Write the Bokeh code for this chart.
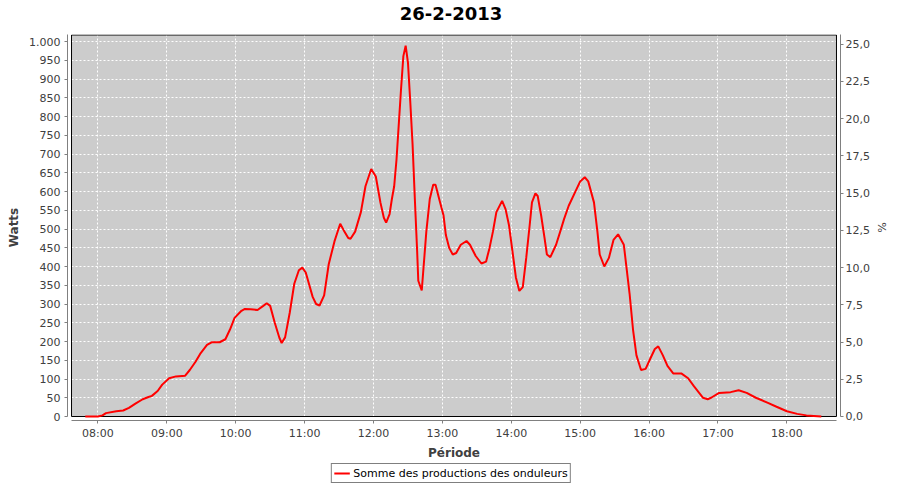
from bokeh.plotting import figure
from bokeh.layouts import column
from bokeh.models import Range1d, LinearAxis, FixedTicker, Legend, LegendItem, Label
from bokeh.embed import file_html
from bokeh.resources import INLINE

# ---- data ----
times = ["07:49", "08:00", "08:04", "08:07", "08:16", "08:22", "08:27", "08:33", "08:39", "08:44",
         "08:47", "08:52", "08:56", "09:02", "09:08", "09:16", "09:20", "09:25", "09:29", "09:35",
         "09:39", "09:46", "09:51", "09:55", "09:59", "10:05", "10:08", "10:13", "10:19", "10:24",
         "10:27", "10:30", "10:34", "10:38", "10:40", "10:43", "10:47", "10:51", "10:55", "10:58",
         "11:01", "11:07", "11:10", "11:13", "11:17", "11:21", "11:26", "11:31", "11:34", "11:38",
         "11:40", "11:44", "11:49", "11:53", "11:58", "12:02", "12:06", "12:09", "12:11", "12:14",
         "12:16", "12:18", "12:20", "12:22", "12:24", "12:26", "12:28", "12:30", "12:32", "12:34",
         "12:36", "12:38", "12:39", "12:42", "12:44", "12:46", "12:49", "12:52", "12:54", "12:58",
         "13:01", "13:03", "13:06", "13:09", "13:12", "13:16", "13:21", "13:24", "13:29", "13:34",
         "13:38", "13:41", "13:44", "13:47", "13:52", "13:55", "13:58", "14:01", "14:04", "14:07",
         "14:10", "14:13", "14:16", "14:18", "14:21", "14:23", "14:26", "14:29", "14:31", "14:34",
         "14:39", "14:43", "14:46", "14:50", "14:56", "15:00", "15:04", "15:07", "15:12", "15:15",
         "15:17", "15:21", "15:25", "15:29", "15:33", "15:38", "15:40", "15:43", "15:46", "15:49",
         "15:53", "15:57", "16:01", "16:05", "16:08", "16:12", "16:16", "16:21", "16:28", "16:34",
         "16:39", "16:47", "16:51", "16:54", "17:01", "17:11", "17:18", "17:25", "17:33", "17:43",
         "17:51", "18:00", "18:09", "18:17", "18:30"]
watts = [0, 0, 3, 9, 14, 16, 23, 35, 46, 52,
         55, 68, 85, 102, 107, 109, 124, 146, 167, 191,
         198, 198, 206, 232, 263, 282, 287, 286, 284, 295,
         302, 295, 250, 210, 196, 211, 276, 354, 390, 397,
         384, 319, 300, 296, 323, 406, 467, 514, 497, 476,
         474, 493, 545, 614, 660, 640, 571, 530, 517, 540,
         580, 614, 684, 779, 874, 961, 989, 944, 840, 727,
         580, 441, 362, 336, 414, 493, 580, 618, 618, 571,
         536, 484, 449, 432, 436, 458, 468, 458, 428, 408,
         413, 449, 493, 545, 575, 553, 510, 441, 371, 335,
         345, 423, 510, 571, 595, 588, 536, 475, 432, 425,
         458, 497, 527, 562, 601, 627, 638, 627, 571, 493,
         432, 400, 423, 471, 486, 458, 406, 328, 232, 163,
         124, 127, 154, 180, 187, 163, 135, 115, 115, 102,
         81, 50, 46, 50, 63, 65, 70, 63, 50, 37,
         26, 14, 7, 3, 0]
hour_labels = ["08:00", "09:00", "10:00", "11:00", "12:00", "13:00",
               "14:00", "15:00", "16:00", "17:00", "18:00"]
watt_ticks = [0, 50, 100, 150, 200, 250, 300, 350, 400, 450, 500,
              550, 600, 650, 700, 750, 800, 850, 900, 950, 1000]
pct_ticks = [0.0, 2.5, 5.0, 7.5, 10.0, 12.5, 15.0, 17.5, 20.0, 22.5, 25.0]
series_name = "Somme des productions des onduleurs"
title_text = "26-2-2013"


def to_min(s):
    h, m = s.split(":")
    return int(h) * 60 + int(m)


x = [to_min(t) for t in times]
hour_x = [to_min(t) for t in hour_labels]

# ranges (frame includes a small gap in which the axes sit, as in the reference)
BOX_X0, BOX_X1 = 457.0, 1123.2
X_START, X_END = 453.5, 1126.7
BOX_Y1 = 1017.4
Y_START, Y_END = -10.65, 1018.7
PCT_START, PCT_END = -0.2687, 25.656

FONT = "DejaVu Sans"
LABEL_COLOR = "#404040"
AXIS_COLOR = "#808080"


def strip(height):
    f = figure(width=884, height=height, x_range=Range1d(0, 1), y_range=Range1d(0, 1),
               x_axis_type=None, y_axis_type=None, output_backend="svg", toolbar_location=None,
               min_border=0, background_fill_color="white", border_fill_color="white")
    f.outline_line_color = None
    f.xgrid.visible = False
    f.ygrid.visible = False
    return f


# title strip
ts = strip(26)
ts.add_layout(Label(x=0.5, y=0.5, text=title_text, text_align="center", text_baseline="middle",
                    text_font=FONT, text_font_size="18px", text_font_style="bold",
                    text_color="black"))

p = figure(frame_width=773, frame_height=386,
           x_range=Range1d(X_START, X_END), y_range=Range1d(Y_START, Y_END),
           output_backend="svg", toolbar_location=None,
           min_border_left=67, min_border_right=44, min_border_top=8, min_border_bottom=0,
           background_fill_color="white", border_fill_color="white")
p.outline_line_color = None

# plot area background and border
p.quad(left=[BOX_X0], right=[BOX_X1], bottom=[0], top=[BOX_Y1],
       fill_color="#CCCCCC", line_color=None, level="image")

# grids
p.xgrid.ticker = FixedTicker(ticks=hour_x)
p.ygrid.ticker = FixedTicker(ticks=watt_ticks)
for g in (p.xgrid, p.ygrid):
    g.grid_line_color = "white"
    g.grid_line_dash = "2 2"
    g.grid_line_width = 1

p.quad(left=[BOX_X0], right=[BOX_X1], bottom=[0], top=[BOX_Y1],
       fill_color=None, line_color="black", line_width=1)

r = p.line(x, watts, line_color="#FF0000", line_width=2)


def style_axis(ax):
    ax.axis_line_color = AXIS_COLOR
    ax.major_tick_line_color = AXIS_COLOR
    ax.major_tick_out = 3
    ax.major_tick_in = 0
    ax.minor_tick_line_color = None
    ax.major_label_text_font = FONT
    ax.major_label_text_font_size = "11px"
    ax.major_label_text_color = LABEL_COLOR
    ax.axis_label_text_font = FONT
    ax.axis_label_text_color = LABEL_COLOR


# x axis
xa = p.xaxis[0]
style_axis(xa)
xa.ticker = FixedTicker(ticks=hour_x)
xa.major_label_overrides = {m: s for m, s in zip(hour_x, hour_labels)}
xa.bounds = (BOX_X0, BOX_X1)
xa.axis_label = "Période"
xa.axis_label_text_font_size = "12px"
xa.axis_label_text_font_style = "bold"
xa.major_label_standoff = 3
xa.axis_label_standoff = 3

# left axis
ya = p.yaxis[0]
style_axis(ya)
ya.ticker = FixedTicker(ticks=watt_ticks)
ya.major_label_overrides = {1000: "1.000"}
ya.bounds = (0, BOX_Y1)
ya.axis_label = "Watts"
ya.axis_label_text_font_size = "12px"
ya.axis_label_text_font_style = "bold"
ya.major_label_standoff = 4
ya.axis_label_standoff = 5

# right axis (%)
p.extra_y_ranges = {"pct": Range1d(PCT_START, PCT_END)}
ra = LinearAxis(y_range_name="pct", ticker=FixedTicker(ticks=pct_ticks))
style_axis(ra)
ra.major_label_overrides = {v: f"{v:.1f}".replace(".", ",") for v in pct_ticks}
ra.bounds = (0, PCT_END)
ra.axis_label = "%"
ra.axis_label_text_font_size = "11px"
ra.axis_label_text_font_style = "normal"
ra.major_label_standoff = 2
ra.axis_label_standoff = 2
p.add_layout(ra, "right")

# legend strip under the chart (frame is aligned with the chart's frame by the column)
lg = strip(22)
proxy = lg.line(x=[5, 6], y=[5, 6], line_color="#FF0000", line_width=2)
legend = Legend(items=[LegendItem(label=series_name, renderers=[proxy])],
                location="center", orientation="horizontal",
                border_line_color="black", border_line_width=1,
                background_fill_color="white", background_fill_alpha=1,
                label_text_font=FONT, label_text_font_size="11px", label_text_color="black",
                padding=2, margin=0, spacing=0, label_standoff=4,
                glyph_width=16, glyph_height=14, label_height=14)
lg.add_layout(legend, "center")

layout = column(ts, p, lg, spacing=0)
open("out.html", "w").write(file_html(layout, INLINE))
